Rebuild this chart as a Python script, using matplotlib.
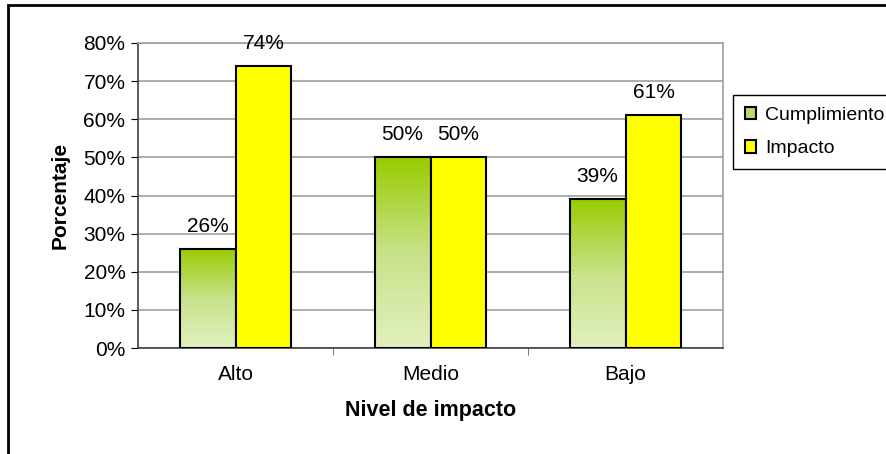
import numpy as np
import matplotlib.pyplot as plt
from matplotlib.colors import LinearSegmentedColormap
from matplotlib.patches import Rectangle, Patch
from matplotlib.ticker import PercentFormatter

categories = ['Alto', 'Medio', 'Bajo']
cumplimiento = [26, 50, 39]
impacto = [74, 50, 61]
value_labels_c = ['26%', '50%', '39%']
value_labels_i = ['74%', '50%', '61%']

plt.rcParams['font.family'] = ['Liberation Sans', 'DejaVu Sans']

fig = plt.figure(figsize=(8.87, 4.54), dpi=100)
ax = fig.add_axes([138 / 887, 1 - 348 / 454, (723 - 138) / 887, (348 - 43) / 454])

# outer chart frame (right/bottom run off the image)
fig.patches.append(Rectangle((8 / 887, -0.1), 1.2, 1 - 5 / 454 + 0.1, transform=fig.transFigure,
                             fill=False, edgecolor='black', linewidth=2, clip_on=False))

x = np.arange(len(categories))
width = 0.287

bars_c = ax.bar(x - width / 2, cumplimiento, width, facecolor='none', edgecolor='black',
                linewidth=1.5, zorder=4, label='Cumplimiento')
bars_i = ax.bar(x + width / 2, impacto, width, color='#FFFF00', edgecolor='black',
                linewidth=1.5, zorder=4, label='Impacto')

# green gradient inside the Cumplimiento bars
green = LinearSegmentedColormap.from_list('g', ['#E2F0BE', '#C8E28A', '#99CC00'])
grad = np.linspace(0, 1, 256).reshape(-1, 1)
for p in bars_c:
    ax.imshow(grad, cmap=green, origin='lower', aspect='auto', zorder=3,
              extent=[p.get_x(), p.get_x() + p.get_width(), 0, p.get_height()])
ax.set_xlim(-0.5, 2.5)
ax.set_ylim(0, 80)

for p, lab in zip(bars_c, value_labels_c):
    ax.text(p.get_x() + p.get_width() / 2, p.get_height() + 3.4, lab, ha='center', va='bottom', fontsize=15)
for p, lab in zip(bars_i, value_labels_i):
    ax.text(p.get_x() + p.get_width() / 2, p.get_height() + 3.4, lab, ha='center', va='bottom', fontsize=15)

ax.set_yticks(np.arange(0, 81, 10))
ax.yaxis.set_major_formatter(PercentFormatter(decimals=0))
ax.yaxis.grid(True, color='#A0A0A0', linewidth=1.2)
ax.set_axisbelow(True)

ax.set_xticks(x)
ax.set_xticklabels(categories)
ax.set_xticks([0.5, 1.5], minor=True)
ax.tick_params(axis='x', which='major', length=0, pad=12, labelsize=15)
ax.tick_params(axis='x', which='minor', length=5, color='#606060')
ax.tick_params(axis='y', length=5, labelsize=15, pad=4)

for side in ['top', 'right']:
    ax.spines[side].set_color('#A0A0A0')
    ax.spines[side].set_linewidth(1.2)
for side in ['left', 'bottom']:
    ax.spines[side].set_color('#404040')
    ax.spines[side].set_linewidth(1.2)

ax.set_ylabel('Porcentaje', fontsize=15, fontweight='bold', labelpad=10)
ax.set_xlabel('Nivel de impacto', fontsize=15.5, fontweight='bold', labelpad=12)

handles = [Patch(facecolor='#B8DB6A', edgecolor='black', linewidth=1.5),
           Patch(facecolor='#FFFF00', edgecolor='black', linewidth=1.5)]
leg = fig.legend(handles, ['Cumplimiento', 'Impacto'], loc='upper left',
                 bbox_to_anchor=(733 / 887, 1 - 95 / 454), fontsize=14, fancybox=False,
                 edgecolor='black', framealpha=1, handlelength=0.6, handleheight=0.6,
                 handletextpad=0.45, borderpad=0.6, labelspacing=0.85, borderaxespad=0)
leg.get_frame().set_linewidth(1)

fig.savefig('out.png', dpi=100)
